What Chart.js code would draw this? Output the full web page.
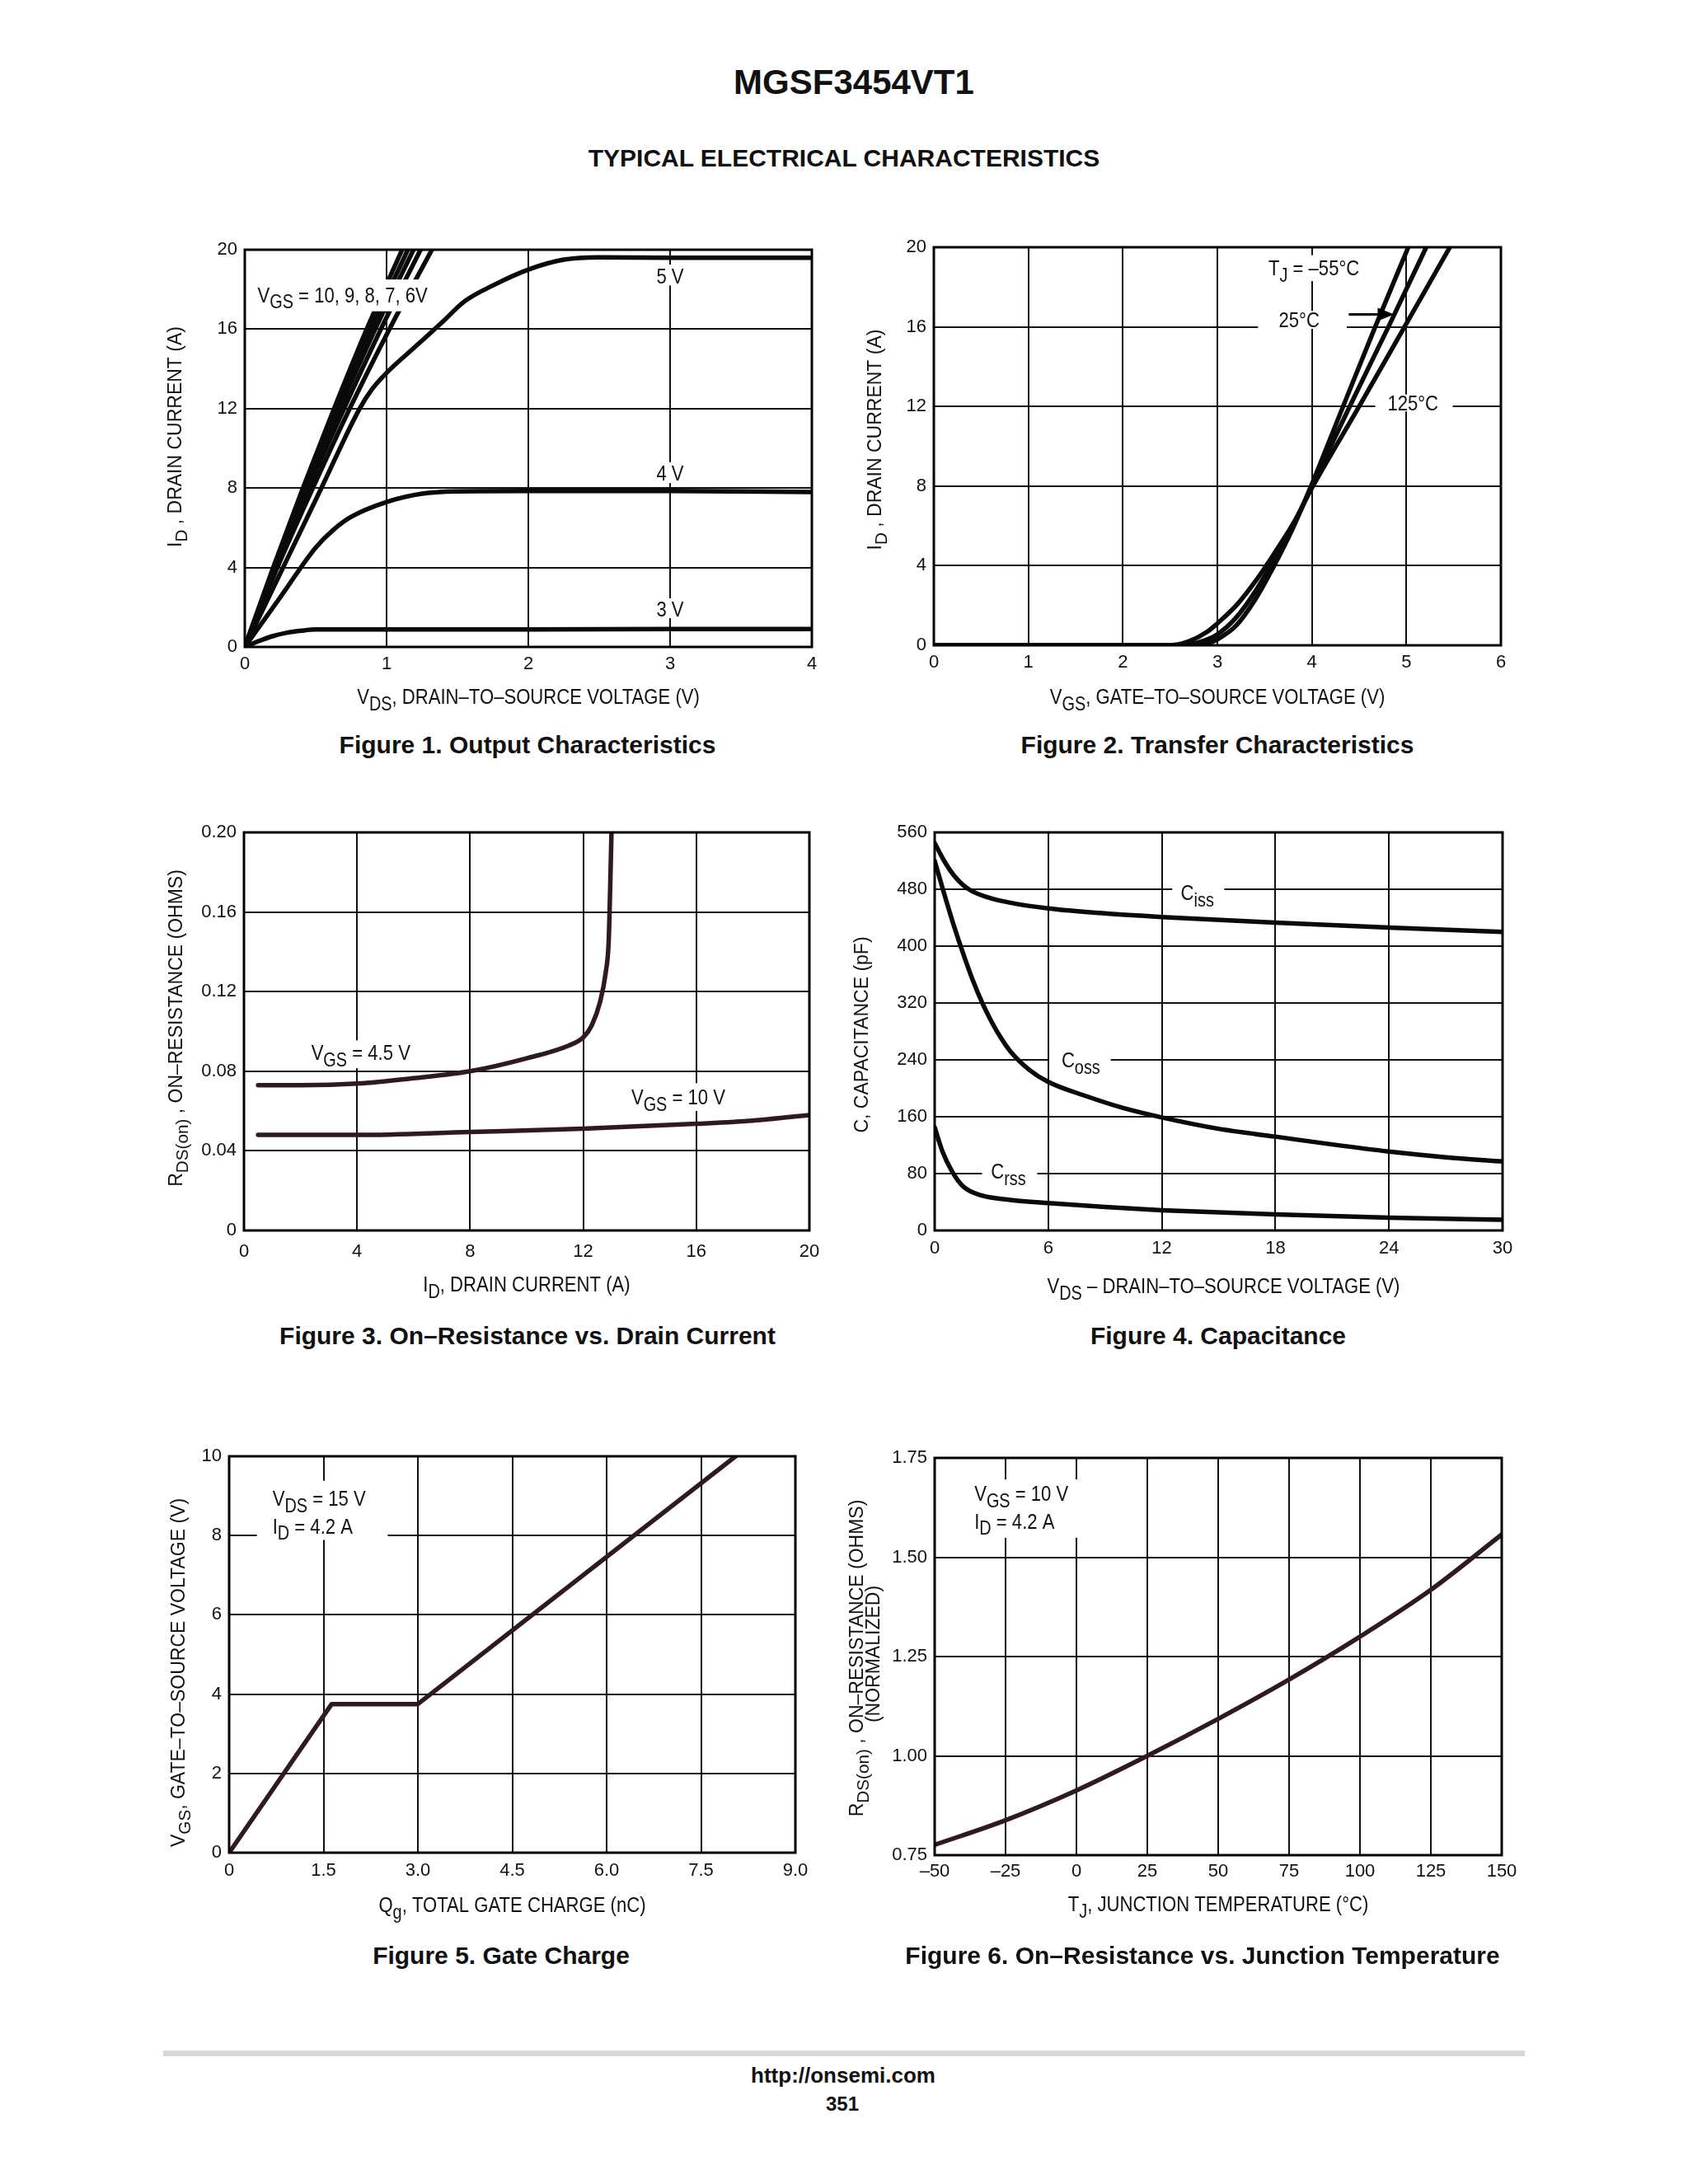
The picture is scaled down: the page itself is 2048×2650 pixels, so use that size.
<!DOCTYPE html>
<html>
<head>
<meta charset="utf-8">
<script src="https://cdn.jsdelivr.net/npm/chart.js@4.4.1/dist/chart.umd.min.js"></script>
<style>
  html, body { margin: 0; padding: 0; background: #fff; }
  body { width: 2048px; height: 2650px; position: relative; overflow: hidden;
         font-family: "Liberation Sans", Arial, sans-serif; color: #111; }
  .t { position: absolute; font-weight: bold; white-space: nowrap; transform: translate(-50%, -50%); }
  canvas { position: absolute; }
</style>
</head>
<body>
<div class="t" style="left:1036px;top:100px;font-size:42px">MGSF3454VT1</div>
<div class="t" style="left:1024px;top:192px;font-size:30px">TYPICAL ELECTRICAL CHARACTERISTICS</div>

<canvas id="c1"></canvas>
<canvas id="c2"></canvas>
<canvas id="c3"></canvas>
<canvas id="c4"></canvas>
<canvas id="c5"></canvas>
<canvas id="c6"></canvas>

<div class="t" style="left:640px;top:904px;font-size:30px">Figure 1. Output Characteristics</div>
<div class="t" style="left:1477px;top:904px;font-size:30px">Figure 2. Transfer Characteristics</div>
<div class="t" style="left:640px;top:1621px;font-size:30px">Figure 3. On–Resistance vs. Drain Current</div>
<div class="t" style="left:1478px;top:1621px;font-size:30px">Figure 4. Capacitance</div>
<div class="t" style="left:608px;top:2373px;font-size:30px">Figure 5. Gate Charge</div>
<div class="t" style="left:1459px;top:2373px;font-size:30px">Figure 6. On–Resistance vs. Junction Temperature</div>

<div style="position:absolute;left:198px;top:2488px;width:1652px;height:7px;background:#d9d9d9"></div>
<div class="t" style="left:1023px;top:2518px;font-size:26px">http://onsemi.com</div>
<div class="t" style="left:1022px;top:2553px;font-size:24px">351</div>

<script>
// ---- data: [x, y] pairs ----

// Fig 1: output characteristics, VDS (V) -> ID (A)
const fig1_10V = [[0,0],[0.20,4],[0.41,8],[0.63,12],[0.86,16],[1.11,20]];
const fig1_9V  = [[0,0],[0.21,4],[0.42,8],[0.65,12],[0.89,16],[1.15,20]];
const fig1_8V  = [[0,0],[0.21,4],[0.44,8],[0.67,12],[0.92,16],[1.19,20]];
const fig1_7V  = [[0,0],[0.22,4],[0.45,8],[0.70,12],[0.96,16],[1.24,20]];
const fig1_6V  = [[0,0],[0.23,4],[0.48,8],[0.74,12],[1.02,16],[1.32,20]];
const fig1_5V  = [[0,0],[0.27,4],[0.54,8],[0.81,12],[0.9,13.0],[1.0,13.8],[1.2,15.1],[1.4,16.4],[1.55,17.4],[1.75,18.2],[2.0,19.0],[2.25,19.5],[2.5,19.62],[3,19.6],[4,19.6]];
const fig1_4V  = [[0,0],[0.25,2.5],[0.5,5.0],[0.625,5.9],[0.75,6.55],[1.0,7.3],[1.25,7.72],[1.5,7.83],[2,7.85],[3,7.85],[4,7.8]];
const fig1_3V  = [[0,0],[0.1,0.3],[0.2,0.55],[0.3,0.72],[0.4,0.82],[0.5,0.88],[1,0.88],[2,0.88],[3,0.9],[4,0.9]];
const fig1XVals = [0, 1, 2, 3, 4];
const fig1XTicks = ['0', '1', '2', '3', '4'];
const fig1YVals = [0, 4, 8, 12, 16, 20];
const fig1YTicks = ['0', '4', '8', '12', '16', '20'];

// Fig 2: transfer characteristics, VGS (V) -> ID (A)
const fig2_m55 = [[0,0],[2.7,0],[2.9,0.1],[3.0,0.3],[3.2,1.0],[3.4,2.3],[3.6,4.0],[3.8,5.9],[4.0,8.1],[4.33,12],[4.67,16],[5.02,20]];
const fig2_25  = [[0,0],[2.6,0],[2.8,0.15],[3.0,0.55],[3.2,1.4],[3.4,2.7],[3.6,4.3],[3.8,6.0],[4.0,8.0],[4.40,12],[4.81,16],[5.21,20]];
const fig2_125 = [[0,0],[2.5,0],[2.7,0.2],[2.9,0.7],[3.0,1.1],[3.2,2.0],[3.4,3.2],[3.6,4.6],[3.8,6.1],[4.0,7.9],[4.50,12],[4.98,16],[5.46,20]];
const fig2XVals = [0, 1, 2, 3, 4, 5, 6];
const fig2XTicks = ['0', '1', '2', '3', '4', '5', '6'];
const fig2YVals = [0, 4, 8, 12, 16, 20];
const fig2YTicks = ['0', '4', '8', '12', '16', '20'];

// Fig 3: on-resistance vs drain current, ID (A) -> RDS(on) (ohm)
const fig3_45V = [[0.5,0.073],[2,0.073],[4,0.0738],[6,0.0765],[8,0.080],[10,0.0865],[11.5,0.093],[12,0.097],[12.3,0.103],[12.6,0.115],[12.8,0.13],[12.9,0.145],[12.95,0.17],[13.0,0.2]];
const fig3_10V = [[0.5,0.048],[4,0.048],[8,0.0495],[12,0.0511],[16,0.0536],[18,0.0552],[20,0.058]];
const fig3XVals = [0, 4, 8, 12, 16, 20];
const fig3XTicks = ['0', '4', '8', '12', '16', '20'];
const fig3YVals = [0, 0.04, 0.08, 0.12, 0.16, 0.20];
const fig3YTicks = ['0', '0.04', '0.08', '0.12', '0.16', '0.20'];

// Fig 4: capacitance, VDS (V) -> C (pF)
const fig4_ciss = [[0,545],[0.5,520],[1,500],[1.5,486],[2,477],[3,467],[4,461],[6,453],[9,446],[12,441],[18,433],[24,426],[30,420]];
const fig4_coss = [[0,520],[0.5,474],[1.0,430],[1.5,390],[2.0,353],[2.5,321],[3.0,294],[3.5,271],[4.0,252],[5.0,226],[6,209],[8,189],[10,172],[12,159],[15,143],[18,132],[21,121],[24,111],[27,103],[30,97]];
const fig4_crss = [[0,145],[0.4,112],[0.9,84],[1.5,62],[2.5,49],[4,43],[6,38.5],[9,33],[12,28.5],[18,22.5],[24,18],[30,15]];
const fig4XVals = [0, 6, 12, 18, 24, 30];
const fig4XTicks = ['0', '6', '12', '18', '24', '30'];
const fig4YVals = [0, 80, 160, 240, 320, 400, 480, 560];
const fig4YTicks = ['0', '80', '160', '240', '320', '400', '480', '560'];

// Fig 5: gate charge, Qg (nC) -> VGS (V)
const fig5_gate = [[0,0],[1.63,3.75],[3.0,3.75],[8.05,10]];
const fig5XVals = [0, 1.5, 3, 4.5, 6, 7.5, 9];
const fig5XTicks = ['0', '1.5', '3.0', '4.5', '6.0', '7.5', '9.0'];
const fig5YVals = [0, 2, 4, 6, 8, 10];
const fig5YTicks = ['0', '2', '4', '6', '8', '10'];

// Fig 6: normalized on-resistance vs junction temperature
const fig6_rds = [[-50,0.776],[-25,0.838],[0,0.913],[25,1.0],[50,1.093],[75,1.192],[100,1.300],[125,1.418],[150,1.557]];
const fig6XVals = [-50, -25, 0, 25, 50, 75, 100, 125, 150];
const fig6XTicks = ['–50', '–25', '0', '25', '50', '75', '100', '125', '150'];
const fig6YVals = [0.75, 1.0, 1.25, 1.5, 1.75];
const fig6YTicks = ['0.75', '1.00', '1.25', '1.50', '1.75'];

const SANS = '"Liberation Sans", Arial, sans-serif';
const INK = '#111';
const SQUEEZE = 0.85;   // condensed look for the in-plot labels and x titles

// text with subscript pieces: parts = [[text], [text, 1 (subscript)], ...]
// y is the middle of the capitals, sx squeezes horizontally
function drawRich(ctx, parts, x, y, align, size, sx) {
  let w = 0;
  parts.forEach(p => {
    ctx.font = (p[1] ? size * 0.9 : size) + 'px ' + SANS;
    w += ctx.measureText(p[0]).width;
  });
  w *= sx;
  const x0 = align === 'center' ? x - w / 2 : x;
  const base = y + size * 0.36;
  ctx.save();
  ctx.translate(x0, 0);
  ctx.scale(sx, 1);
  ctx.textAlign = 'left';
  ctx.textBaseline = 'alphabetic';
  ctx.fillStyle = INK;
  let cx = 0;
  parts.forEach(p => {
    ctx.font = (p[1] ? size * 0.9 : size) + 'px ' + SANS;
    ctx.fillText(p[0], cx, p[1] ? base + size * 0.3 : base);
    cx += ctx.measureText(p[0]).width;
  });
  ctx.restore();
}

const decoPlugin = {
  id: 'deco',
  afterDatasetsDraw(chart, args, o) {
    const ctx = chart.ctx, xs = chart.scales.x, ys = chart.scales.y, a = chart.chartArea;
    ctx.save();
    // white patches behind the in-plot labels (they break the grid, like the original)
    ctx.fillStyle = '#fff';
    (o.boxes || []).forEach(b => {
      const x0 = xs.getPixelForValue(b[0]), x1 = xs.getPixelForValue(b[1]);
      const y0 = ys.getPixelForValue(b[3]), y1 = ys.getPixelForValue(b[2]);
      ctx.fillRect(x0, y0, x1 - x0, y1 - y0);
    });
    // frame
    ctx.strokeStyle = '#000';
    ctx.lineWidth = 3;
    ctx.strokeRect(a.left, a.top, a.right - a.left, a.bottom - a.top);

    (o.labels || []).forEach(l => {
      drawRich(ctx, l.text, xs.getPixelForValue(l.x), ys.getPixelForValue(l.y), l.align || 'left', 26, SQUEEZE);
    });

    (o.arrows || []).forEach(ar => {
      const x0 = xs.getPixelForValue(ar[0]), x1 = xs.getPixelForValue(ar[1]), y = ys.getPixelForValue(ar[2]);
      ctx.strokeStyle = '#000';
      ctx.lineWidth = 3;
      ctx.beginPath(); ctx.moveTo(x0, y); ctx.lineTo(x1 - 14, y); ctx.stroke();
      ctx.fillStyle = '#000';
      ctx.beginPath(); ctx.moveTo(x1, y); ctx.lineTo(x1 - 20, y - 8); ctx.lineTo(x1 - 20, y + 8); ctx.closePath(); ctx.fill();
    });

    // axis titles
    const mx = (a.left + a.right) / 2, my = (a.top + a.bottom) / 2;
    drawRich(ctx, o.xTitle, mx + (o.xTitleDx || 0), a.bottom + o.xTitleDy, 'center', 26, SQUEEZE);
    (o.yTitles || []).forEach(t => {
      ctx.save();
      ctx.translate(a.left + t.dx, my + t.dy);
      ctx.rotate(-Math.PI / 2);
      drawRich(ctx, t.text, 0, 0, 'center', 23, 1);
      ctx.restore();
    });
    ctx.restore();
  }
};

function axis(vals, ticks, pad, fit) {
  return {
    type: 'linear',
    min: vals[0],
    max: vals[vals.length - 1],
    afterBuildTicks: s => { s.ticks = vals.map(v => ({ value: v })); },
    afterFit: fit,
    ticks: {
      callback: (v, i) => ticks[i],
      autoSkip: false,
      maxRotation: 0,
      padding: pad,
      color: INK,
      font: { family: SANS, size: 22 }
    },
    grid: { color: '#111', lineWidth: 2, drawTicks: false },
    border: { display: false }
  };
}

function makeChart(id, area, series, colour, xv, xt, yv, yt, xPad, deco) {
  const padL = 140, padT = 24, padR = 40, padB = 100;
  const cv = document.getElementById(id);
  cv.width = area.w + padL + padR;
  cv.height = area.h + padT + padB;
  cv.style.left = (area.x - padL) + 'px';
  cv.style.top = (area.y - padT) + 'px';
  return new Chart(cv, {
    type: 'line',
    data: {
      datasets: series.map(s => ({
        data: s.pts.map(p => ({ x: p[0], y: p[1] })),
        borderColor: colour,
        borderWidth: 5.5,
        pointRadius: 0,
        fill: false,
        cubicInterpolationMode: s.straight ? 'default' : 'monotone',
        tension: 0,
        borderJoinStyle: 'round',
        borderCapStyle: 'round'
      }))
    },
    options: {
      responsive: false,
      animation: false,
      devicePixelRatio: 1,
      layout: { padding: { left: 0, top: padT, right: padR, bottom: 0 } },
      plugins: { legend: { display: false }, tooltip: { enabled: false }, deco: deco },
      scales: {
        x: axis(xv, xt, xPad, s => { s.height = padB; }),
        y: axis(yv, yt, 9, s => { s.width = padL; })
      }
    },
    plugins: [decoPlugin]
  });
}

const BLACK = '#0a0a0a';
const MAROON = '#2f1b1e';

makeChart('c1', { x: 297, y: 303, w: 688, h: 482 },
  [{ pts: fig1_10V }, { pts: fig1_9V }, { pts: fig1_8V }, { pts: fig1_7V }, { pts: fig1_6V },
   { pts: fig1_5V }, { pts: fig1_4V }, { pts: fig1_3V }],
  BLACK, fig1XVals, fig1XTicks, fig1YVals, fig1YTicks, 8, {
    boxes: [[0.06, 1.33, 16.9, 18.5], [2.88, 3.12, 18.2, 19.25], [2.88, 3.12, 8.25, 9.3], [2.88, 3.12, 1.45, 2.45]],
    labels: [
      { x: 0.09, y: 17.75, text: [['V'], ['GS', 1], [' = 10, 9, 8, 7, 6V']] },
      { x: 3, y: 18.7, align: 'center', text: [['5 V']] },
      { x: 3, y: 8.75, align: 'center', text: [['4 V']] },
      { x: 3, y: 1.93, align: 'center', text: [['3 V']] }
    ],
    xTitle: [['V'], ['DS', 1], [', DRAIN–TO–SOURCE VOLTAGE (V)']], xTitleDy: 60,
    yTitles: [{ text: [['I'], ['D', 1], [' , DRAIN CURRENT (A)']], dx: -85, dy: -14 }]
  });

makeChart('c2', { x: 1133, y: 300, w: 688, h: 483 },
  [{ pts: fig2_m55 }, { pts: fig2_25 }, { pts: fig2_125 }],
  BLACK, fig2XVals, fig2XTicks, fig2YVals, fig2YTicks, 8, {
    boxes: [[3.5, 4.66, 18.3, 19.6], [3.43, 4.37, 15.9, 16.8], [4.67, 5.49, 11.75, 12.6]],
    labels: [
      { x: 3.54, y: 18.97, text: [['T'], ['J', 1], [' = –55°C']] },
      { x: 3.65, y: 16.36, text: [['25°C']] },
      { x: 4.80, y: 12.2, text: [['125°C']] }
    ],
    arrows: [[4.39, 4.87, 16.63]],
    xTitle: [['V'], ['GS', 1], [', GATE–TO–SOURCE VOLTAGE (V)']], xTitleDy: 62,
    yTitles: [{ text: [['I'], ['D', 1], [' , DRAIN CURRENT (A)']], dx: -72, dy: -8 }]
  });

makeChart('c3', { x: 296, y: 1010, w: 686, h: 483 },
  [{ pts: fig3_45V }, { pts: fig3_10V }],
  MAROON, fig3XVals, fig3XTicks, fig3YVals, fig3YTicks, 13, {
    boxes: [[2.2, 6.1, 0.0815, 0.0955], [13.5, 17.2, 0.060, 0.074]],
    labels: [
      { x: 2.38, y: 0.0895, text: [['V'], ['GS', 1], [' = 4.5 V']] },
      { x: 13.7, y: 0.0672, text: [['V'], ['GS', 1], [' = 10 V']] }
    ],
    xTitle: [['I'], ['D', 1], [', DRAIN CURRENT (A)']], xTitleDy: 65,
    yTitles: [{ text: [['R'], ['DS(on)', 1], [' , ON–RESISTANCE (OHMS)']], dx: -83, dy: -4 }]
  });

makeChart('c4', { x: 1134, y: 1010, w: 689, h: 483 },
  [{ pts: fig4_ciss }, { pts: fig4_coss }, { pts: fig4_crss }],
  BLACK, fig4XVals, fig4XTicks, fig4YVals, fig4YTicks, 9, {
    boxes: [[12.55, 15.3, 455, 492], [6.05, 9.3, 220, 256], [2.5, 5.42, 62, 98]],
    labels: [
      { x: 13.0, y: 476, text: [['C'], ['iss', 1]] },
      { x: 6.7, y: 240, text: [['C'], ['oss', 1]] },
      { x: 2.97, y: 83.6, text: [['C'], ['rss', 1]] }
    ],
    xTitle: [['V'], ['DS', 1], [' – DRAIN–TO–SOURCE VOLTAGE (V)']], xTitleDy: 67, xTitleDx: 6,
    yTitles: [{ text: [['C, CAPACITANCE (pF)']], dx: -89, dy: 4 }]
  });

makeChart('c5', { x: 278, y: 1767, w: 687, h: 481 },
  [{ pts: fig5_gate, straight: true }],
  MAROON, fig5XVals, fig5XTicks, fig5YVals, fig5YTicks, 9, {
    boxes: [[0.44, 2.52, 7.89, 9.38]],
    labels: [
      { x: 0.69, y: 8.95, text: [['V'], ['DS', 1], [' = 15 V']] },
      { x: 0.69, y: 8.25, text: [['I'], ['D', 1], [' = 4.2 A']] }
    ],
    xTitle: [['Q'], ['g', 1], [', TOTAL GATE CHARGE (nC)']], xTitleDy: 63,
    yTitles: [{ text: [['V'], ['GS', 1], [', GATE–TO–SOURCE VOLTAGE (V)']], dx: -62, dy: 22 }]
  });

makeChart('c6', { x: 1134, y: 1769, w: 688, h: 482 },
  [{ pts: fig6_rds }],
  MAROON, fig6XVals, fig6XTicks, fig6YVals, fig6YTicks, 7, {
    boxes: [[-40, 3, 1.549, 1.696]],
    labels: [
      { x: -36, y: 1.661, text: [['V'], ['GS', 1], [' = 10 V']] },
      { x: -36, y: 1.592, text: [['I'], ['D', 1], [' = 4.2 A']] }
    ],
    xTitle: [['T'], ['J', 1], [', JUNCTION TEMPERATURE (°C)']], xTitleDy: 59,
    yTitles: [
      { text: [['R'], ['DS(on)', 1], [' , ON–RESISTANCE (OHMS)']], dx: -95, dy: 2 },
      { text: [['(NORMALIZED)']], dx: -75, dy: -3 }
    ]
  });
</script>
</body>
</html>
